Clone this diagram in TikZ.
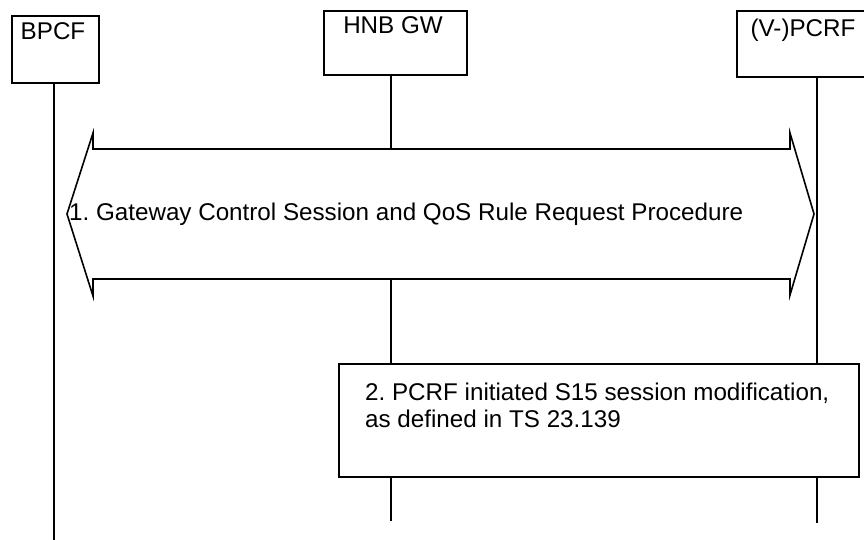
\documentclass[tikz,border=0pt]{standalone}
\usepackage{fontspec}
\setmainfont{Liberation Sans}
\begin{document}
\frenchspacing
\begin{tikzpicture}[x=1pt,y=-1pt,
  lw/.style={line width=1.6pt},
  entity/.style={draw,lw,anchor=north west,inner sep=0pt},
  lbl/.style={anchor=base,inner sep=0pt,font=\fontsize{24.2}{27}\selectfont},
  life/.style={lw}]
\useasboundingbox (0,0) rectangle (864,540);
% entity boxes
\node[entity,minimum width=87pt,minimum height=67pt] (bpcf) at (11,15) {};
\node[entity,minimum width=143pt,minimum height=64pt] (hnb) at (323,10) {};
\node[entity,minimum width=130pt,minimum height=66pt] (pcrf) at (736,10) {};
\node[lbl] (bpcfT) at (53,39.3) {BPCF};
\node[lbl] (hnbT) at (393,33.5) {HNB GW};
\node[lbl] (pcrfT) at (803,36.7) {(V-)PCRF};
% procedure arrow
\path[draw,lw,line join=miter] (93,149) coordinate (aTL) -- (790,149) coordinate (aTR) -- (790,133) -- (814,214) coordinate (aR) -- (790,295) -- (790,279) coordinate (aBR)
  -- (93,279) coordinate (aBL) -- (93,296) -- (67,214) coordinate (aL) -- (93,133) -- cycle;
\node[lbl,anchor=west] (step1) at (69,214) {1. Gateway Control Session and QoS Rule Request Procedure};
% step 2 box
\node[entity,minimum width=520pt,minimum height=113pt] (s2) at (338,363) {};
\node[lbl,anchor=base west,align=left] (s2a) at (365,400) {2. PCRF initiated S15 session modification,};
\node[lbl,anchor=base west,align=left] (s2b) at (365,427) {as defined in TS 23.139};
% lifelines
\coordinate (b0) at (54,82); \coordinate (b1) at (54,541);
\coordinate (h0) at (391,74); \coordinate (h1) at (391,149);
\coordinate (h2) at (391,279); \coordinate (h3) at (391,363);
\coordinate (h4) at (391,476); \coordinate (h5) at (391,521);
\coordinate (p0) at (817,76); \coordinate (p1) at (817,363);
\coordinate (p2) at (817,476); \coordinate (p3) at (817,523);
\draw[life] (b0) -- (b1);
\draw[life] (h0) -- (h1);
\draw[life] (h2) -- (h3);
\draw[life] (h4) -- (h5);
\draw[life] (p0) -- (p1);
\draw[life] (p2) -- (p3);
\end{tikzpicture}
\end{document}
